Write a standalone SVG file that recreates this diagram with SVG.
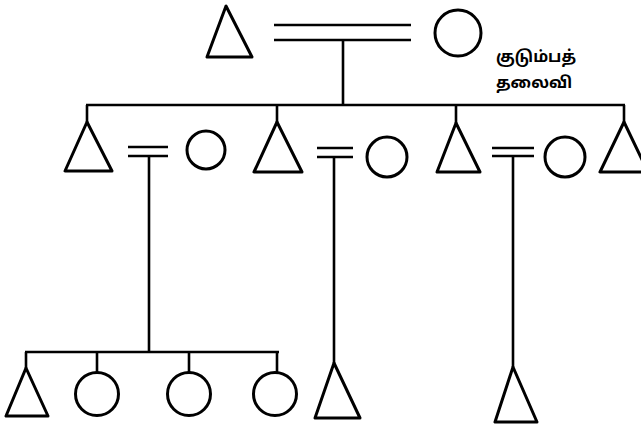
<svg xmlns="http://www.w3.org/2000/svg" width="641" height="428" viewBox="0 0 641 428">
<style>
.s{fill:none;stroke:#000;stroke-width:3;stroke-linejoin:round;stroke-linecap:round}
.l{fill:none;stroke:#000;stroke-width:2.6;stroke-linecap:butt}
.t{font-family:"Noto Sans Tamil","Lohit Tamil","Noto Sans",sans-serif;font-size:16px;font-weight:bold;fill:#000}
</style>
<rect width="641" height="428" fill="#fff"/>
<g id="connectors">
<line class="l" x1="274" y1="25" x2="411" y2="25"/>
<line class="l" x1="274" y1="40" x2="411" y2="40"/>
<line class="l" x1="343" y1="40" x2="343" y2="105"/>
<line class="l" x1="86" y1="105" x2="625" y2="105"/>
<line class="l" x1="87" y1="105" x2="87" y2="122"/>
<line class="l" x1="277" y1="105" x2="277" y2="122"/>
<line class="l" x1="456" y1="105" x2="456" y2="123"/>
<line class="l" x1="624" y1="105" x2="624" y2="122"/>
<line class="l" x1="128" y1="147" x2="168" y2="147"/>
<line class="l" x1="128" y1="156" x2="168" y2="156"/>
<line class="l" x1="149" y1="156" x2="149" y2="352"/>
<line class="l" x1="317" y1="148" x2="353" y2="148"/>
<line class="l" x1="317" y1="157" x2="353" y2="157"/>
<line class="l" x1="334" y1="157" x2="334" y2="363"/>
<line class="l" x1="492" y1="148" x2="534" y2="148"/>
<line class="l" x1="492" y1="156" x2="534" y2="156"/>
<line class="l" x1="513" y1="156" x2="513" y2="367"/>
<line class="l" x1="25" y1="352" x2="279" y2="352"/>
<line class="l" x1="26" y1="352" x2="26" y2="368"/>
<line class="l" x1="97" y1="352" x2="97" y2="372"/>
<line class="l" x1="189" y1="352" x2="189" y2="372"/>
<line class="l" x1="277" y1="352" x2="277" y2="372"/>
</g>
<g id="g1-father"><polygon class="s" points="226,6 207,57 252,57"/></g>
<g id="g1-mother"><circle class="s" cx="458" cy="33" r="23"/></g>
<g id="label"><text class="t" x="496" y="62">குடும்பத்</text><text class="t" x="496" y="88">தலைவி</text></g>
<g id="g2-son1"><polygon class="s" points="87,122 65,171 112,171"/></g>
<g id="g2-wife1"><circle class="s" cx="206" cy="150" r="19"/></g>
<g id="g2-son2"><polygon class="s" points="277,122 254,172 302,172"/></g>
<g id="g2-wife2"><circle class="s" cx="387" cy="157" r="20"/></g>
<g id="g2-son3"><polygon class="s" points="456,123 437,172 480,172"/></g>
<g id="g2-wife3"><circle class="s" cx="565" cy="157" r="20"/></g>
<g id="g2-son4"><polygon class="s" points="624,122 600,172 648,172"/></g>
<g id="g3-c1"><polygon class="s" points="26,368 6,416 48,416"/></g>
<g id="g3-c2"><circle class="s" cx="97" cy="394" r="21.5"/></g>
<g id="g3-c3"><circle class="s" cx="189" cy="394" r="21.5"/></g>
<g id="g3-c4"><circle class="s" cx="275" cy="394" r="21.5"/></g>
<g id="g3-c5"><polygon class="s" points="334,363 315,418 360,418"/></g>
<g id="g3-c6"><polygon class="s" points="513,367 495,422 537,422"/></g>
</svg>
